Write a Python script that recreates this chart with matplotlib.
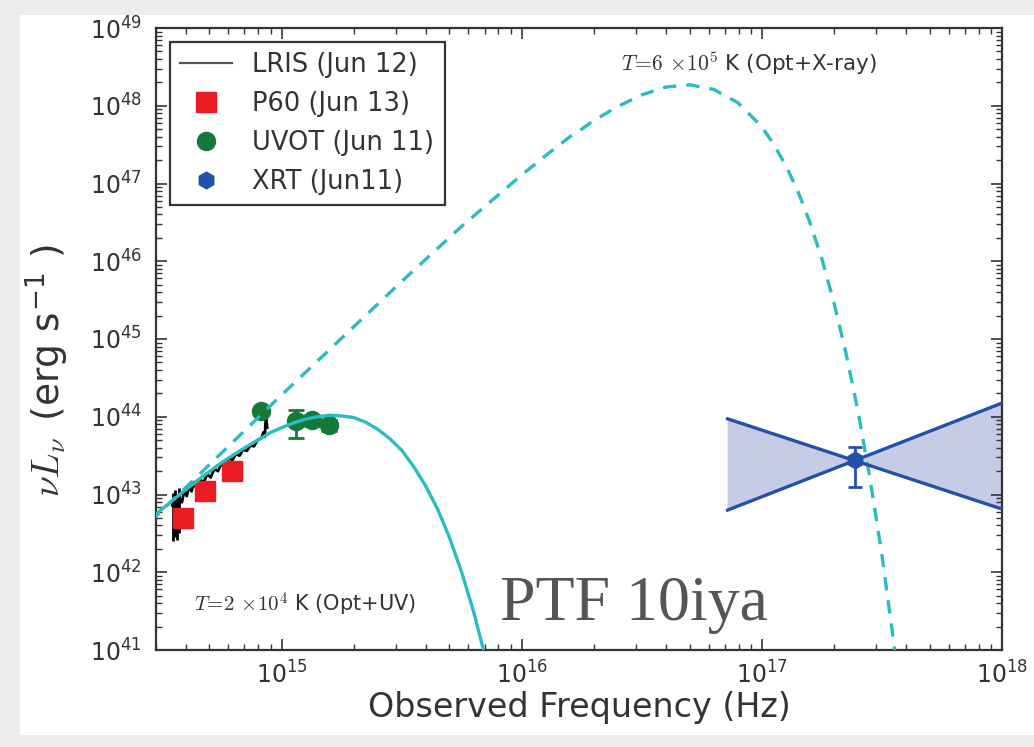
import matplotlib
matplotlib.use("Agg")
import numpy as np
import matplotlib.pyplot as plt
from matplotlib.patches import Rectangle
from matplotlib.ticker import LogLocator, NullFormatter

plt.rcParams['mathtext.fontset'] = 'cm'
plt.rcParams['font.family'] = ['DejaVu Sans']

# curvas de cuerpo negro (log10 nu, log10 nuLnu)
bb_uv_lognu = [14.45, 14.525, 14.6, 14.675, 14.75, 14.825, 14.9, 14.95, 15.0, 15.05, 15.1, 15.15,
               15.2, 15.25, 15.3, 15.35, 15.4, 15.45, 15.5, 15.55, 15.6, 15.65, 15.7, 15.75,
               15.8, 15.85, 15.9]
bb_uv_logL = [42.68, 42.87, 43.06, 43.24, 43.41, 43.56, 43.70, 43.79, 43.86, 43.92, 43.97, 44.00,
              44.02, 44.01, 43.99, 43.93, 43.84, 43.72, 43.57, 43.36, 43.11, 42.81, 42.44, 42.00,
              41.49, 40.89, 40.19]

bb_x_lognu = [14.45, 15.0, 15.5, 15.75, 16.0, 16.1, 16.2, 16.25, 16.3, 16.4, 16.5, 16.6, 16.7,
              16.8, 16.9, 17.0, 17.05, 17.1, 17.15, 17.2, 17.25, 17.3, 17.35, 17.4, 17.45,
              17.5, 17.55, 17.6]
bb_x_logL = [42.64, 44.28, 45.74, 46.45, 47.11, 47.36, 47.60, 47.70, 47.81, 47.99, 48.14, 48.24,
             48.27, 48.21, 48.04, 47.73, 47.50, 47.23, 46.90, 46.50, 46.03, 45.47, 44.82, 44.08,
             43.21, 42.22, 41.08, 39.77]

# espectro LRIS
lris_lognu = [14.545, 14.555, 14.565, 14.575, 14.585, 14.595, 14.605, 14.615, 14.625, 14.635,
              14.645, 14.66, 14.675, 14.69, 14.705, 14.72, 14.735, 14.75, 14.765, 14.78,
              14.795, 14.81, 14.825, 14.84, 14.855, 14.87, 14.885, 14.90, 14.915, 14.925,
              14.93, 14.935, 14.94]
lris_logL = [42.86, 42.98, 42.80, 42.95, 42.90, 43.05, 42.98, 43.10, 43.04, 43.16,
             43.08, 43.20, 43.15, 43.26, 43.22, 43.33, 43.30, 43.40, 43.38, 43.47,
             43.44, 43.52, 43.50, 43.58, 43.56, 43.63, 43.62, 43.70, 43.72, 43.80,
             43.74, 44.02, 43.86]
lris_bar_lognu = [14.548, 14.556, 14.566, 14.574]
lris_bar_lo = [42.40, 42.45, 42.42, 42.50]
lris_bar_hi = [43.02, 43.06, 43.00, 43.08]

# P60
p60_nu = [3.88e14, 4.79e14, 6.2e14]
p60_L = [5.0e42, 1.1e43, 2.0e43]

# UVOT
uvot_nu = [8.2e14, 1.15e15, 1.34e15, 1.57e15]
uvot_L = [1.18e44, 8.8e43, 9.1e43, 7.8e43]
uvot_err = [1.0e43, 3.5e43, 1.5e43, 1.2e43]

# XRT
xrt_nu = [2.45e17]
xrt_L = [2.76e43]
xrt_err_lo = [1.5e43]
xrt_err_hi = [1.35e43]
bow_nu = [7.2e16, 1.0e18]
bow_a = [9.4e43, 6.5e42]
bow_b = [6.3e42, 1.5e44]

cyan = '#2bbcc0'
red = '#ec1c24'
green = '#137a3a'
blue = '#2350a8'
txt = '#333333'

W, H = 1034, 747
fig = plt.figure(figsize=(W / 100, H / 100), dpi=100, facecolor='#ececec')
fig.add_artist(Rectangle((20 / W, 12 / H), 1.0, 720 / H, transform=fig.transFigure,
                         facecolor='white', edgecolor='none', zorder=-10))

ax = fig.add_axes([156 / W, 1 - 650 / H, (1002 - 156) / W, (650 - 28) / H])
ax.set_facecolor('white')

ax.plot(10 ** np.array(lris_lognu), 10 ** np.array(lris_logL), color='black', lw=2.0,
        label='LRIS (Jun 12)', zorder=2)
ax.vlines(10 ** np.array(lris_bar_lognu), 10 ** np.array(lris_bar_lo), 10 ** np.array(lris_bar_hi),
          color='black', lw=2, zorder=2)
ax.plot(p60_nu, p60_L, 's', color=red, mec=red, ms=14, label='P60 (Jun 13)', zorder=3)
ax.errorbar(uvot_nu, uvot_L, yerr=uvot_err, fmt='none', ecolor=green,
            elinewidth=2, capsize=6, capthick=2, zorder=3)
ax.plot(uvot_nu, uvot_L, 'o', color=green, mec=green, ms=13, label='UVOT (Jun 11)', zorder=3)

ax.plot(10 ** np.array(bb_uv_lognu), 10 ** np.array(bb_uv_logL), '-', color=cyan, lw=2.4, zorder=4)
ax.plot(10 ** np.array(bb_x_lognu), 10 ** np.array(bb_x_logL), '--', color=cyan, lw=2.4,
        dashes=(4, 3), zorder=4)

ax.fill_between(bow_nu, bow_a, bow_b, facecolor='#c6cbe6', edgecolor='none', zorder=1)
ax.plot(bow_nu, bow_a, color=blue, lw=2.4, zorder=5)
ax.plot(bow_nu, bow_b, color=blue, lw=2.4, zorder=5)
ax.errorbar(xrt_nu, xrt_L, yerr=[xrt_err_lo, xrt_err_hi], fmt='none', ecolor=blue,
            elinewidth=2, capsize=5, capthick=2, zorder=6)
ax.plot(xrt_nu, xrt_L, 'h', color=blue, mec=blue, ms=12, label='XRT (Jun11)', zorder=6)

ax.set_xscale('log')
ax.set_yscale('log')
ax.set_xlim(3e14, 1e18)
ax.set_ylim(1e41, 1e49)

ax.xaxis.set_major_locator(LogLocator(base=10, numticks=10))
ax.yaxis.set_major_locator(LogLocator(base=10, numticks=12))
ax.xaxis.set_minor_locator(LogLocator(base=10, subs=np.arange(2, 10), numticks=20))
ax.yaxis.set_minor_locator(LogLocator(base=10, subs=np.arange(2, 10), numticks=20))
ax.xaxis.set_minor_formatter(NullFormatter())
ax.yaxis.set_minor_formatter(NullFormatter())
ax.tick_params(which='both', direction='in', top=True, right=True, colors=txt, labelsize=17)
ax.tick_params(which='major', length=8, width=1.2)
ax.tick_params(which='minor', length=4, width=1)
ax.tick_params(axis='x', pad=8)
ax.tick_params(axis='y', pad=10)
for s in ax.spines.values():
    s.set_linewidth(1.6)
    s.set_color(txt)

ax.set_xlabel('Observed Frequency (Hz)', fontsize=24, color=txt, labelpad=2)
ax.set_ylabel(r'$\nu L_\nu\,$ (erg s$^{\mathdefault{-1}}$ )', fontsize=27, color=txt)
ax.yaxis.set_label_coords(-0.1, 0.45)

ax.text(2.6e16, 2.8e48, r'$T\!=\!6\ \!\times\!10^5$ K (Opt+X-ray)', fontsize=15.5, color=txt,
        ha='left', va='baseline')
ax.text(4.3e14, 3.1e41, r'$T\!=\!2\ \!\times\!10^4$ K (Opt+UV)', fontsize=15, color=txt,
        ha='left', va='baseline')
ax.text(8.1e15, 2.4e41, 'PTF 10iya', fontsize=46, color='#555555', family='Liberation Serif',
        ha='left', va='baseline')

leg = ax.legend(loc='upper left', fontsize=18.5, numpoints=1, fancybox=False, framealpha=1,
                edgecolor=txt, borderaxespad=0.55)
leg.get_frame().set_linewidth(1.6)
leg.legend_handles[0].set_color('#555555')
leg.legend_handles[0].set_linewidth(1.6)
for t in leg.get_texts():
    t.set_color(txt)

fig.savefig('out.png', dpi=100, facecolor=fig.get_facecolor())
